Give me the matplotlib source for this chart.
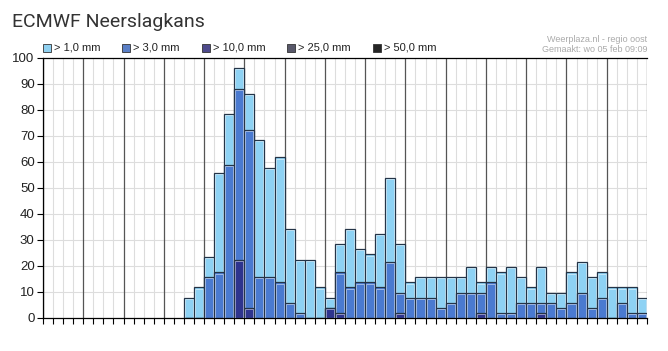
import numpy as np
import matplotlib
matplotlib.use('Agg')
import matplotlib.pyplot as plt
from matplotlib.patches import Rectangle

plt.rcParams['font.family'] = ['Liberation Sans', 'DejaVu Sans']

# Day labels (4 slots of 6 hours per day)
days = ['Wo 5', 'Do 6', 'Vr 7', 'Za 8', 'Zo 9', 'Ma 10', 'Di 11', 'Wo 12',
        'Do 13', 'Vr 14', 'Za 15', 'Zo 16', 'Ma 17', 'Di 18', 'Wo 19']

# Probability (%) per 6-hour slot, slots 14..59 (earlier slots are zero)
first_slot = 14
p_gt1 = [7.8, 11.8, 23.5, 55.9, 78.4, 96.1, 86.3, 68.6, 57.8, 61.8,
         34.3, 22.5, 22.5, 11.8, 7.8, 28.4, 34.3, 26.5, 24.5, 32.4,
         53.9, 28.4, 13.7, 15.7, 15.7, 15.7, 15.7, 15.7, 19.6, 13.7,
         19.6, 17.6, 19.6, 15.7, 11.8, 19.6, 9.8, 9.8, 17.6, 21.6,
         15.7, 17.6, 11.8, 11.8, 11.8, 7.8]
p_gt3 = [0, 0, 15.7, 17.6, 58.8, 88.2, 72.5, 15.7, 15.7, 13.7,
         5.9, 2.0, 0, 0, 3.9, 17.6, 11.8, 13.7, 13.7, 11.8,
         21.6, 9.8, 7.8, 7.8, 7.8, 3.9, 5.9, 9.8, 9.8, 9.8,
         13.7, 2.0, 2.0, 5.9, 5.9, 5.9, 5.9, 3.9, 5.9, 9.8,
         3.9, 7.8, 0, 5.9, 2.0, 2.0]
p_gt10 = [0, 0, 0, 0, 0, 22.5, 3.9, 0, 0, 0,
          0, 0, 0, 0, 3.9, 2.0, 0, 0, 0, 0,
          0, 2.0, 0, 0, 0, 0, 0, 0, 0, 2.0,
          0, 0, 0, 0, 0, 2.0, 0, 0, 0, 0,
          0, 0, 0, 0, 0, 0]

legend_labels = ['> 1,0 mm', '> 3,0 mm', '> 10,0 mm', '> 25,0 mm', '> 50,0 mm']
legend_colors = ['#8fd0f0', '#5a7fc6', '#4e4a8c', '#58586a', '#262626']
bar_colors = ['#8ed2f4', '#4a7ad0', '#2e348e']

n_slots = len(days) * 4
x = np.arange(first_slot, first_slot + len(p_gt1)) + 0.5

fig = plt.figure(figsize=(6.68, 3.51), dpi=100)
ax = fig.add_axes([43 / 668, 33 / 351, 604 / 668, 260 / 351])

# grid
for s in range(n_slots + 1):
    if s % 4 == 0:
        ax.axvline(s, color='#555555', lw=0.9, zorder=1)
    else:
        ax.axvline(s, color='#dddddd', lw=0.8, zorder=0)
for v in range(10, 100, 10):
    ax.axhline(v, color='#dddddd', lw=0.8, zorder=0)

for vals, c in zip([p_gt1, p_gt3, p_gt10], bar_colors):
    vals = np.array(vals)
    ax.bar(x, vals, width=1.0, color=c, edgecolor='#243447', linewidth=0.9, zorder=3)
    # light inner highlight of each block
    inner = np.where(vals > 1.5, vals - 0.5, 0)
    ax.bar(x, inner, width=0.8, fill=False, edgecolor='white', alpha=0.55,
           linewidth=0.6, zorder=3)

ax.set_xlim(0, n_slots)
ax.set_ylim(0, 100)
ax.set_yticks(range(0, 101, 10))
ax.tick_params(axis='y', labelsize=9.5, length=4, width=0.8, pad=2, labelcolor='#222222')
ax.set_xticks(range(0, n_slots + 1))
ax.set_xticklabels([])
ax.tick_params(axis='x', which='major', length=4, width=0.8)
ax.set_xticks(np.arange(len(days)) * 4 + 2, minor=True)
ax.set_xticklabels(days, minor=True)
ax.tick_params(axis='x', which='minor', length=0, labelsize=9, pad=3, labelcolor='#222222')
for sp in ax.spines.values():
    sp.set_color('black')
    sp.set_linewidth(0.9)
ax.spines['right'].set_visible(False)

# title and info
fig.text(12 / 668, 1 - 22 / 351, 'ECMWF Neerslagkans', fontsize=14,
         family=['Roboto', 'DejaVu Sans'], color='#333333', va='center')
fig.text(647 / 668, 1 - 40 / 351, 'Weerplaza.nl - regio oost', fontsize=6.5,
         color='#aaaaaa', ha='right', va='center')
fig.text(647 / 668, 1 - 50 / 351, 'Gemaakt: wo 05 feb 09:09', fontsize=6.5,
         color='#aaaaaa', ha='right', va='center')

# legend row
legend_x = [43, 122, 202, 287, 373]
for lx, lab, c in zip(legend_x, legend_labels, legend_colors):
    fig.patches.append(Rectangle((lx / 668, 1 - 52 / 351), 8 / 668, 8 / 351,
                                 transform=fig.transFigure, facecolor=c,
                                 edgecolor='#333333', linewidth=0.6))
    fig.text((lx + 11) / 668, 1 - 48 / 351, lab, fontsize=8, color='#222222',
             va='center')

fig.savefig('out.png', dpi=100)
